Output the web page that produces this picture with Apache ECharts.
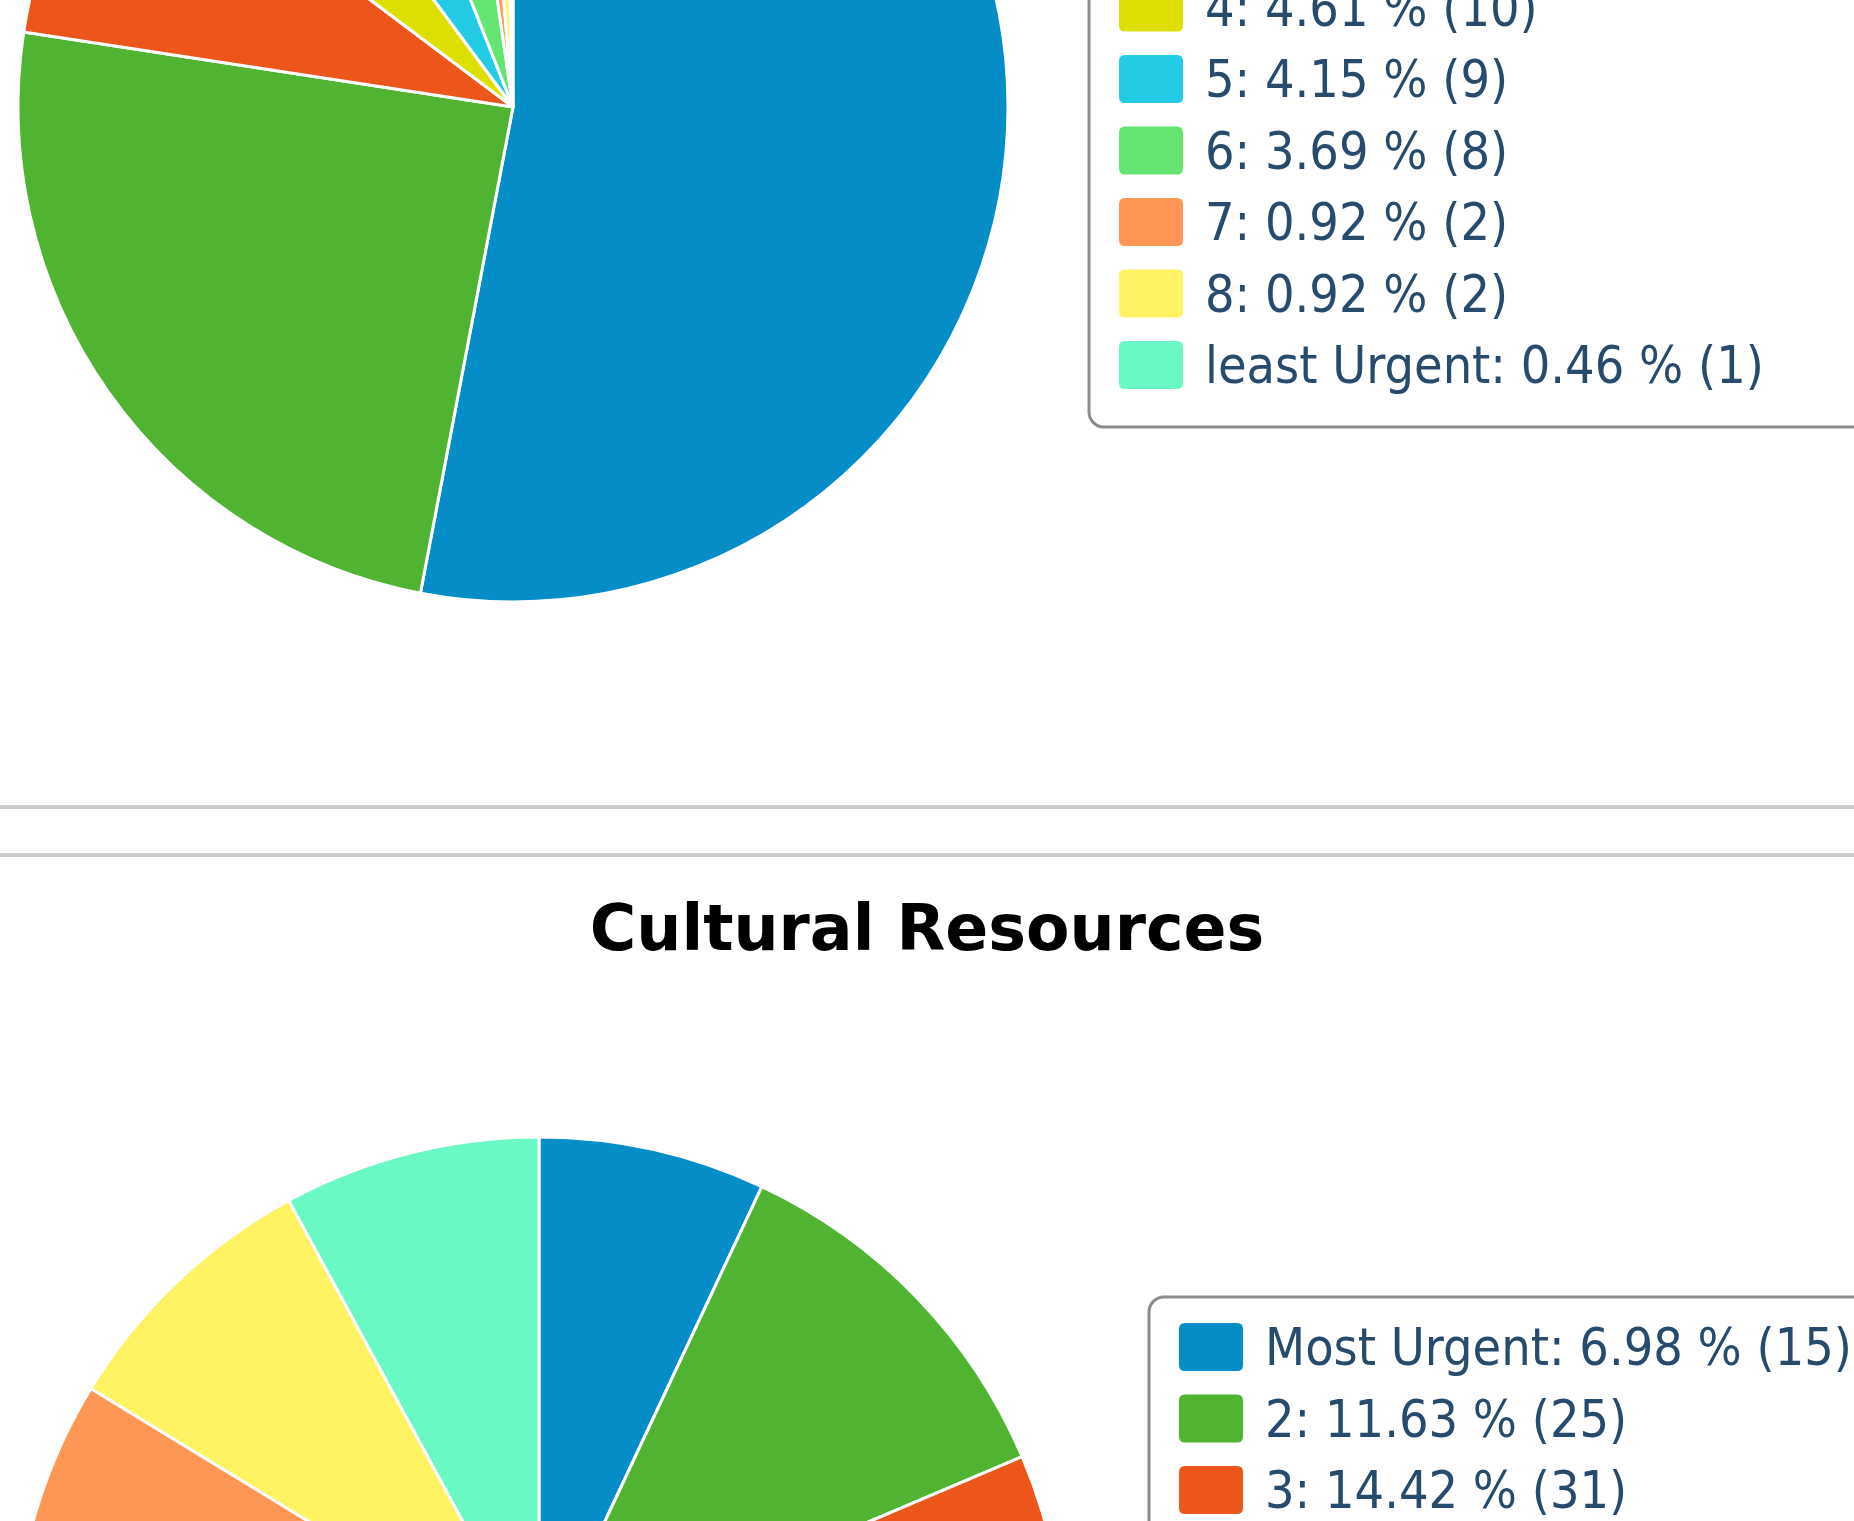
<!DOCTYPE html>
<html>
<head>
<meta charset="utf-8">
<title>Urgency</title>
<script src="https://cdn.jsdelivr.net/npm/echarts/dist/echarts.min.js"></script>
<style>
  html, body { margin: 0; padding: 0; background: #fff; overflow: hidden; }
  body { width: 1854px; height: 1521px; position: relative; }
  .chart { position: absolute; left: 0; width: 1854px; }
  #top-chart { top: -600px; height: 1405px; }
  #bottom-chart { top: 857px; height: 1400px; }
  .sep { position: absolute; left: 0; width: 1854px; height: 4px; background: #cccccc; }
</style>
</head>
<body>
<div id="top-chart" class="chart"></div>
<div class="sep" style="top:805px"></div>
<div class="sep" style="top:853px"></div>
<div id="bottom-chart" class="chart"></div>
<script>
(function() {
  const names = ["Most Urgent", "2", "3", "4", "5", "6", "7", "8", "least Urgent"];
  // upper chart (title is scrolled out of view)
  const topValues = [115, 53, 17, 10, 9, 8, 2, 2, 1];
  // Cultural Resources
  const culturalValues = [15, 25, 31, 30, 28, 27, 24, 18, 17];
  const colors = ["#058DC7", "#50B432", "#ED561B", "#DDDF00", "#24CBE5", "#64E572", "#FF9655", "#FFF263", "#6AF9C4"];

  // rounded square; the trailing move-to leaves empty room below it,
  // so the label sits slightly lower than the swatch like the original
  const legendIcon = "path://M6,0 H58 Q64,0 64,6 V42 Q64,48 58,48 H6 Q0,48 0,42 V6 Q0,0 6,0 Z M0,58";

  function buildOption(values, title, center, radius, legendPos) {
    let total = values.reduce(function(a, b) { return a + b; }, 0);
    let data = names.map(function(n, i) {
      return { name: n, value: values[i] };
    });
    let option = {
      animation: false,
      color: colors,
      legend: {
        orient: "vertical",
        left: legendPos[0],
        top: legendPos[1],
        align: "left",
        icon: legendIcon,
        itemWidth: 64,
        itemHeight: 58,
        itemGap: 13.5,
        padding: [26, 31, 28, 30],
        backgroundColor: "#fff",
        borderColor: "#8c8c8c",
        borderWidth: 3,
        borderRadius: 15,
        selectedMode: false,
        itemStyle: { borderWidth: 0 },
        textStyle: {
          fontFamily: "'DejaVu Sans Condensed', 'DejaVu Sans'",
          fontSize: 51.7,
          color: "#274b6d",
          padding: [0, 0, 0, 17],
        },
        formatter: function(name) {
          let v = values[names.indexOf(name)];
          return name + ": " + (v / total * 100).toFixed(2) + " % (" + v + ")";
        },
        data: names,
      },
      series: [
        {
          type: "pie",
          center: center,
          radius: radius,
          startAngle: 90,
          clockwise: true,
          data: data,
          label: { show: false },
          labelLine: { show: false },
          itemStyle: {
            borderColor: "#fff",
            borderWidth: 3,
          },
          emphasis: { scale: false },
        },
      ],
    };
    if (title) {
      option.title = {
        text: title,
        left: "center",
        top: 40,
        textStyle: {
          fontFamily: "DejaVu Sans",
          fontSize: 63.4,
          fontWeight: "bold",
          color: "#000",
        },
      };
    }
    return option;
  }

  var topChart = echarts.init(document.getElementById("top-chart"));
  topChart.setOption(buildOption(topValues, null, [513, 707], 495, [1089, 343]));

  var bottomChart = echarts.init(document.getElementById("bottom-chart"));
  bottomChart.setOption(buildOption(culturalValues, "Cultural Resources", [539, 805], 525, [1149, 440]));

  window.addEventListener("resize", function() {
    topChart.resize();
    bottomChart.resize();
  });
})();
</script>
</body>
</html>
